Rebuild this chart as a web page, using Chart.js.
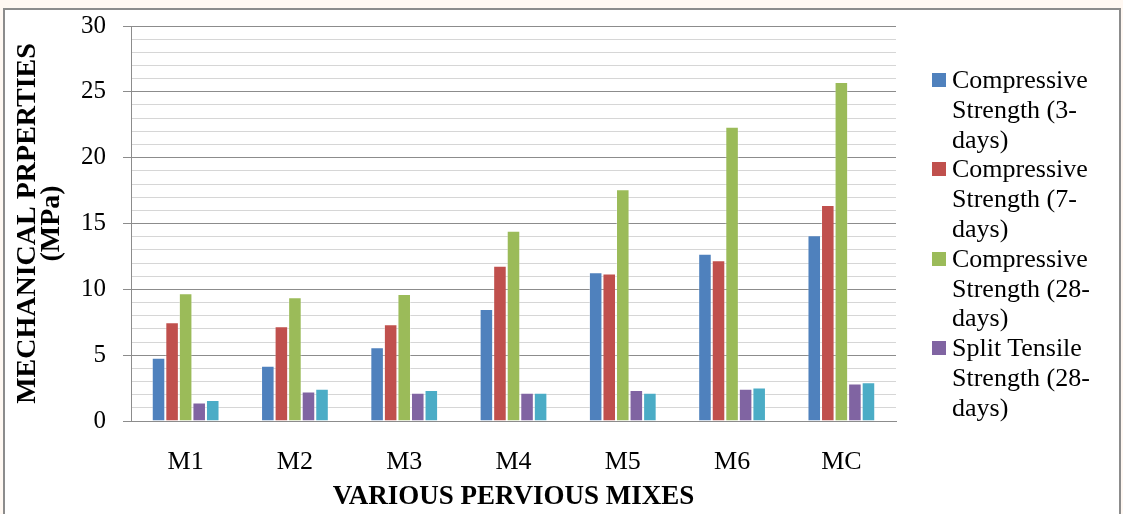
<!DOCTYPE html>
<html>
<head>
<meta charset="utf-8">
<script src="https://cdn.jsdelivr.net/npm/chart.js@4/dist/chart.umd.min.js"></script>
<style>
  html, body { margin: 0; padding: 0; width: 1123px; height: 514px; overflow: hidden; background: #fff8f2; position: relative; }
  #frame { position: absolute; left: 3px; top: 8px; width: 1114px; height: 520px; border: 2px solid #8c8c8c; background: #ffffff; }
  #c { position: absolute; left: 0; top: 0; }
  #legend { position: absolute; left: 932px; top: 65px; font-family: "Liberation Serif", "DejaVu Serif", serif; font-size: 26px; line-height: 29.8px; color: #000; }
  .item { position: relative; padding-left: 20px; white-space: nowrap; }
  .sw { position: absolute; left: 0; top: 8px; width: 14px; height: 14px; }
</style>
</head>
<body>
<div id="frame"></div>
<canvas id="c" width="1123" height="514"></canvas>
<div id="legend"></div>
<script>
const categories = ['M1', 'M2', 'M3', 'M4', 'M5', 'M6', 'MC'];
const compressive3 = [4.8, 4.2, 5.6, 8.5, 11.3, 12.7, 14.1];
const compressive7 = [7.5, 7.2, 7.35, 11.8, 11.2, 12.2, 16.4];
const compressive28 = [9.7, 9.4, 9.65, 14.45, 17.6, 22.35, 25.75];
const splitTensile28 = [1.4, 2.25, 2.15, 2.15, 2.35, 2.45, 2.85];
const series5 = [1.6, 2.45, 2.35, 2.15, 2.15, 2.55, 2.95];

const seriesLabels = [
  ['Compressive', 'Strength (3-', 'days)'],
  ['Compressive', 'Strength (7-', 'days)'],
  ['Compressive', 'Strength (28-', 'days)'],
  ['Split Tensile', 'Strength (28-', 'days)']
];
const colors = ['#4f81bd', '#c0504d', '#9bbb59', '#8064a2', '#4bacc6'];
const yTitle = ['MECHANICAL PRPERTIES', '(MPa)'];
const xTitle = 'VARIOUS PERVIOUS MIXES';

const values = [compressive3, compressive7, compressive28, splitTensile28, series5];
const names = ['Compressive Strength (3-days)', 'Compressive Strength (7-days)', 'Compressive Strength (28-days)', 'Split Tensile Strength (28-days)', 'Series 5'];

const FONT = "'Liberation Serif', 'Times New Roman', serif";

new Chart(document.getElementById('c'), {
  type: 'bar',
  data: {
    labels: categories,
    datasets: values.map((v, i) => ({
      label: names[i],
      data: v,
      backgroundColor: colors[i],
      borderColor: 'rgba(255,255,255,0.35)',
      borderWidth: 1,
      categoryPercentage: 0.62,
      barPercentage: 1.0
    }))
  },
  options: {
    responsive: false,
    animation: false,
    devicePixelRatio: 1,
    layout: { padding: { top: 26, right: 227, left: 0, bottom: 0 } },
    plugins: { legend: { display: false }, tooltip: { enabled: false } },
    scales: {
      x: {
        afterFit: s => { s.height = 93; },
        grid: { display: false, drawTicks: false },
        border: { display: true, color: '#8c8c8c', width: 1 },
        ticks: { color: '#000', padding: 26, font: { family: FONT, size: 26 } },
        title: { display: true, text: xTitle, color: '#000', padding: { top: 0, bottom: 1 }, font: { family: FONT, size: 27, weight: 'bold' } }
      },
      y: {
        min: 0, max: 30,
        afterFit: s => { s.width = 131; s.paddingTop = 0; s.paddingBottom = 0; },
        ticks: {
          stepSize: 1, autoSkip: false, maxTicksLimit: 100,
          color: '#000', padding: 17,
          font: { family: FONT, size: 25, lineHeight: 1.0 },
          callback: v => (v % 5 === 0 ? v : '')
        },
        grid: {
          color: ctx => (ctx.tick && ctx.tick.value % 5 === 0 ? '#8c8c8c' : '#d6d6d6'),
          tickColor: ctx => (ctx.tick && ctx.tick.value % 5 === 0 ? '#8c8c8c' : 'rgba(0,0,0,0)'),
          tickLength: 8,
          lineWidth: 1
        },
        border: { display: true, color: '#8c8c8c', width: 1 },
        title: { display: true, text: yTitle, color: '#000', padding: { top: 16, bottom: 0 }, font: { family: FONT, size: 28, weight: 'bold', lineHeight: 0.85 } }
      }
    }
  }
});

const leg = document.getElementById('legend');
seriesLabels.forEach((lines, i) => {
  const d = document.createElement('div');
  d.className = 'item';
  const sw = document.createElement('span');
  sw.className = 'sw';
  sw.style.background = colors[i];
  d.appendChild(sw);
  lines.forEach((t, j) => {
    if (j > 0) d.appendChild(document.createElement('br'));
    d.appendChild(document.createTextNode(t));
  });
  leg.appendChild(d);
});
</script>
</body>
</html>
